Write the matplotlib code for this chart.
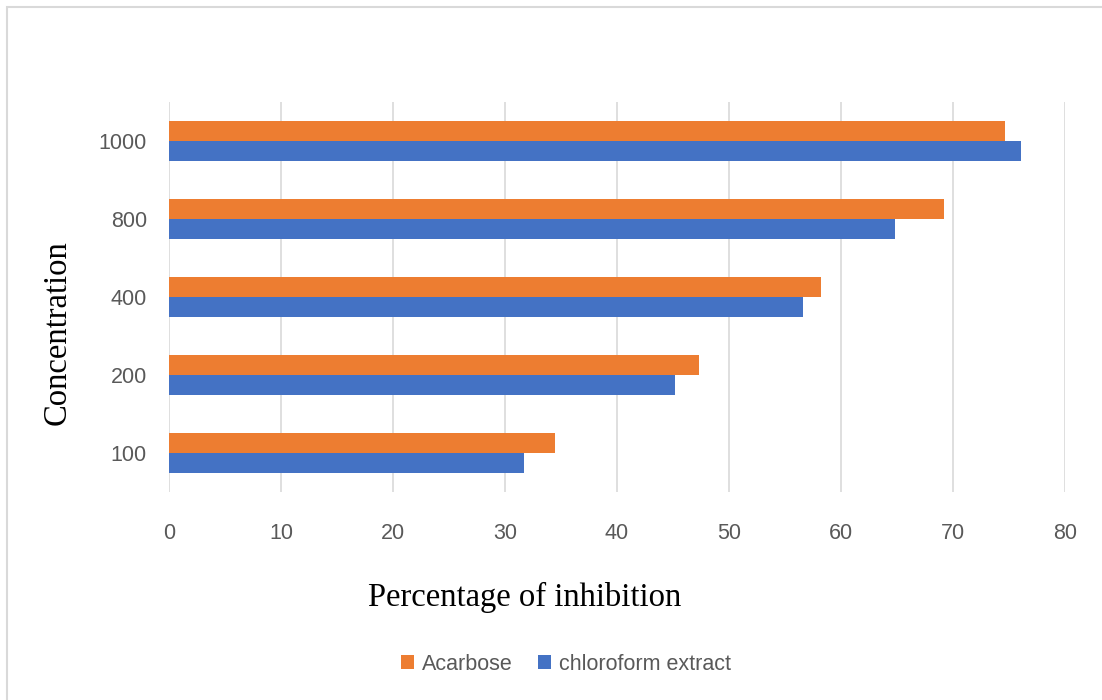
import matplotlib
matplotlib.use("Agg")
import matplotlib.pyplot as plt
from matplotlib.patches import Rectangle
import numpy as np

categories = ["100", "200", "400", "800", "1000"]
acarbose = [34.5, 47.3, 58.2, 69.2, 74.6]
chloroform = [31.7, 45.2, 56.6, 64.8, 76.1]
series_names = ["Acarbose", "chloroform extract"]
xticks = [0, 10, 20, 30, 40, 50, 60, 70, 80]

W, H = 1102, 700
fig = plt.figure(figsize=(W / 100, H / 100), dpi=100)
fig.patches.append(Rectangle((7 / W, -0.01), 1.02, 1 - 7 / H + 0.01, transform=fig.transFigure,
                             fill=False, edgecolor="#D9D9D9", linewidth=1.5))

ax = fig.add_axes([169 / W, 1 - 492 / H, (1065 - 169) / W, (492 - 102) / H])
y = np.arange(len(categories))
h = 0.256
ax.barh(y + h / 2, acarbose, height=h, color="#ED7D31", label=series_names[0], zorder=3)
ax.barh(y - h / 2, chloroform, height=h, color="#4472C4", label=series_names[1], zorder=3)

ax.set_xlim(0, 80)
ax.set_ylim(-0.5, len(categories) - 0.5)
ax.set_xticks(xticks)
ax.set_xticklabels([str(t) for t in xticks])
ax.set_yticks(y)
ax.set_yticklabels(categories)
ax.grid(axis="x", color="#D9D9D9", linewidth=1.2, zorder=0)
for s in ax.spines.values():
    s.set_visible(False)
ax.tick_params(axis="both", length=0, colors="#595959", labelsize=15.5)
ax.tick_params(axis="x", pad=22)
ax.tick_params(axis="y", pad=16)
for lab in ax.get_xticklabels() + ax.get_yticklabels():
    lab.set_family("Liberation Sans")

fig.text(525 / W, 1 - 597 / H, "Percentage of inhibition", ha="center", va="center",
         family="Liberation Serif", fontsize=23.5, color="black")
fig.text(57 / W, 1 - 333 / H, "Concentration", ha="center", va="center", rotation=90,
         family="Liberation Serif", fontsize=23.5, color="black")

leg = fig.legend(loc="center", bbox_to_anchor=(566 / W, 1 - 664 / H), ncol=2, frameon=False,
                 prop={"family": "Liberation Sans", "size": 15.5}, handlelength=0.6,
                 handleheight=0.6, handletextpad=0.35, columnspacing=1.2)
for t in leg.get_texts():
    t.set_color("#595959")

fig.savefig("out.png", dpi=100)
